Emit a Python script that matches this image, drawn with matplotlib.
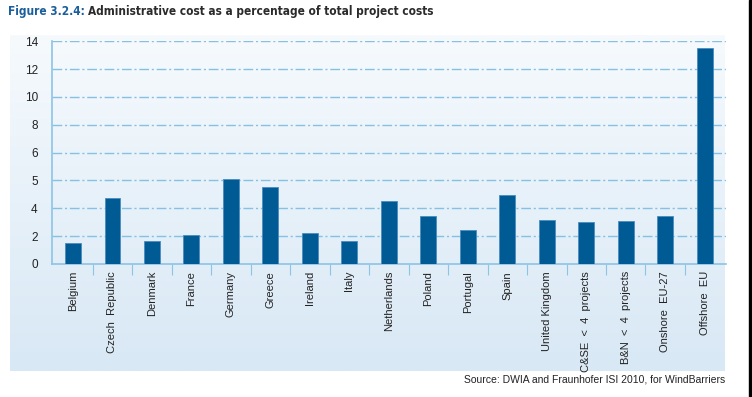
import numpy as np
import matplotlib
matplotlib.use("Agg")
import matplotlib.pyplot as plt
from matplotlib import font_manager as fm
from matplotlib.ticker import FixedLocator, FixedFormatter
from matplotlib.colors import LinearSegmentedColormap

categories = ["Belgium", "Czech  Republic", "Denmark", "France", "Germany", "Greece",
              "Ireland", "Italy", "Netherlands", "Poland", "Portugal", "Spain",
              "United Kingdom", "C&SE  <  4  projects", "B&N  <  4  projects",
              "Onshore  EU-27", "Offshore  EU"]
values = [1.48, 4.38, 1.64, 2.06, 5.07, 4.78, 2.26, 1.64, 4.27, 3.46, 2.44,
          4.49, 3.16, 3.02, 3.10, 3.46, 13.52]
ytick_labels = [0, 2, 4, 5, 6, 8, 10, 12, 14]

title_num = "Figure 3.2.4:"
title_rest = "Administrative cost as a percentage of total project costs"
source = "Source: DWIA and Fraunhofer ISI 2010, for WindBarriers"

W, H = 752, 397
fig = plt.figure(figsize=(W / 100, H / 100), dpi=100)

def fx(px):
    return px / W

def fy(py):
    return 1 - py / H

# pick a narrow font for the title if available
title_props = None
for fam, stretch in [("Liberation Sans Narrow", "normal"), ("DejaVu Sans", "condensed"),
                     ("Roboto Condensed", "normal"), ("Liberation Sans", "normal")]:
    fp = fm.FontProperties(family=fam, weight="bold", stretch=stretch)
    try:
        path = fm.findfont(fp, fallback_to_default=False)
    except Exception:
        continue
    if fam == "DejaVu Sans" and "Condensed" not in path:
        continue
    title_props = (fam, stretch)
    break
if title_props is None:
    title_props = ("DejaVu Sans", "normal")

# gradient panel
bg = fig.add_axes([fx(10), fy(371), fx(725) - fx(10), fy(35) - fy(371)], zorder=0)
grad = np.linspace(0, 1, 256).reshape(-1, 1)
cmap = LinearSegmentedColormap.from_list("bg", ["#f6fafd", "#d8e8f5"])
bg.imshow(grad, aspect="auto", cmap=cmap, extent=[0, 1, 0, 1], origin="upper")
bg.set_axis_off()

# right black strip
fig.patches.append(plt.Rectangle((fx(749), 0), 1 - fx(749), 1, transform=fig.transFigure,
                                 color="black", zorder=5))

ax = fig.add_axes([fx(51.7), fy(264), fx(726) - fx(51.7), fy(41.3) - fy(264)], zorder=1)
ax.patch.set_alpha(0)

pos = np.arange(len(ytick_labels), dtype=float)
lab = np.array(ytick_labels, dtype=float)

def forward(y):
    return np.interp(y, lab, pos)

def inverse(p):
    return np.interp(p, pos, lab)

ax.set_yscale("function", functions=(forward, inverse))
ax.set_ylim(0, 14)

x = np.arange(len(categories))
ax.bar(x, values, width=0.405, color="#005b94", edgecolor="#4a8cbf", linewidth=0.6, zorder=3)
ax.set_xlim(-0.54, len(categories) - 1 + 0.54)

ax.yaxis.set_major_locator(FixedLocator(ytick_labels))
ax.yaxis.set_major_formatter(FixedFormatter([str(v) for v in ytick_labels]))
ax.yaxis.set_minor_locator(FixedLocator([]))
ax.tick_params(axis="y", length=0, pad=10, labelsize=8.5, labelcolor="#222222")
for t in ax.get_yticklabels():
    t.set_fontfamily("Liberation Sans")

ax.set_xticks(x)
ax.set_xticklabels(categories, rotation=90, fontsize=8, color="#222222",
                   fontfamily="Liberation Sans", va="top")
ax.tick_params(axis="x", length=0, pad=5)
ax.set_xticks(np.arange(len(categories) - 1) + 0.5, minor=True)
ax.tick_params(axis="x", which="minor", length=8, width=0.8, color="#8cc4e6", direction="out")

ax.grid(axis="y", color="#86c0e2", linewidth=1.0, linestyle=(0, (7, 2, 1.5, 2)), zorder=0)
for g in ax.get_ygridlines()[:1]:
    g.set_visible(False)

for s in ["top", "right"]:
    ax.spines[s].set_visible(False)
for s in ["left", "bottom"]:
    ax.spines[s].set_color("#8cc4e6")
    ax.spines[s].set_linewidth(1.2)

# title, sized toward reference width (~409 px)
fam, stretch = title_props
fs = 10.0
renderer = fig.canvas.get_renderer()
probe = fig.text(0, 0, title_num + " " + title_rest, fontsize=fs, fontweight="bold",
                 fontfamily=fam, fontstretch=stretch)
wpx = probe.get_window_extent(renderer=renderer).width
probe.remove()
fs = max(8.5, min(10.0, fs * 409.0 / wpx))

t1 = fig.text(fx(8), fy(12), title_num, color="#1b5e9c", fontsize=fs, fontweight="bold",
              fontfamily=fam, fontstretch=stretch, va="center", ha="left")
w1 = t1.get_window_extent(renderer=renderer)
sp = fig.text(0, 0, "a a", fontsize=fs, fontweight="bold", fontfamily=fam, fontstretch=stretch)
sw = sp.get_window_extent(renderer=renderer).width
sp2 = fig.text(0, 0, "aa", fontsize=fs, fontweight="bold", fontfamily=fam, fontstretch=stretch)
sw -= sp2.get_window_extent(renderer=renderer).width
sp.remove()
sp2.remove()
fig.text((w1.x1 + sw) / W, fy(12), title_rest, color="#2b2b2b", fontsize=fs, fontweight="bold",
         fontfamily=fam, fontstretch=stretch, va="center", ha="left")

fig.text(fx(725), fy(380), source, color="#222222", fontsize=7.5,
         fontfamily="Liberation Sans", ha="right", va="center")

fig.savefig("out.png", dpi=100)
